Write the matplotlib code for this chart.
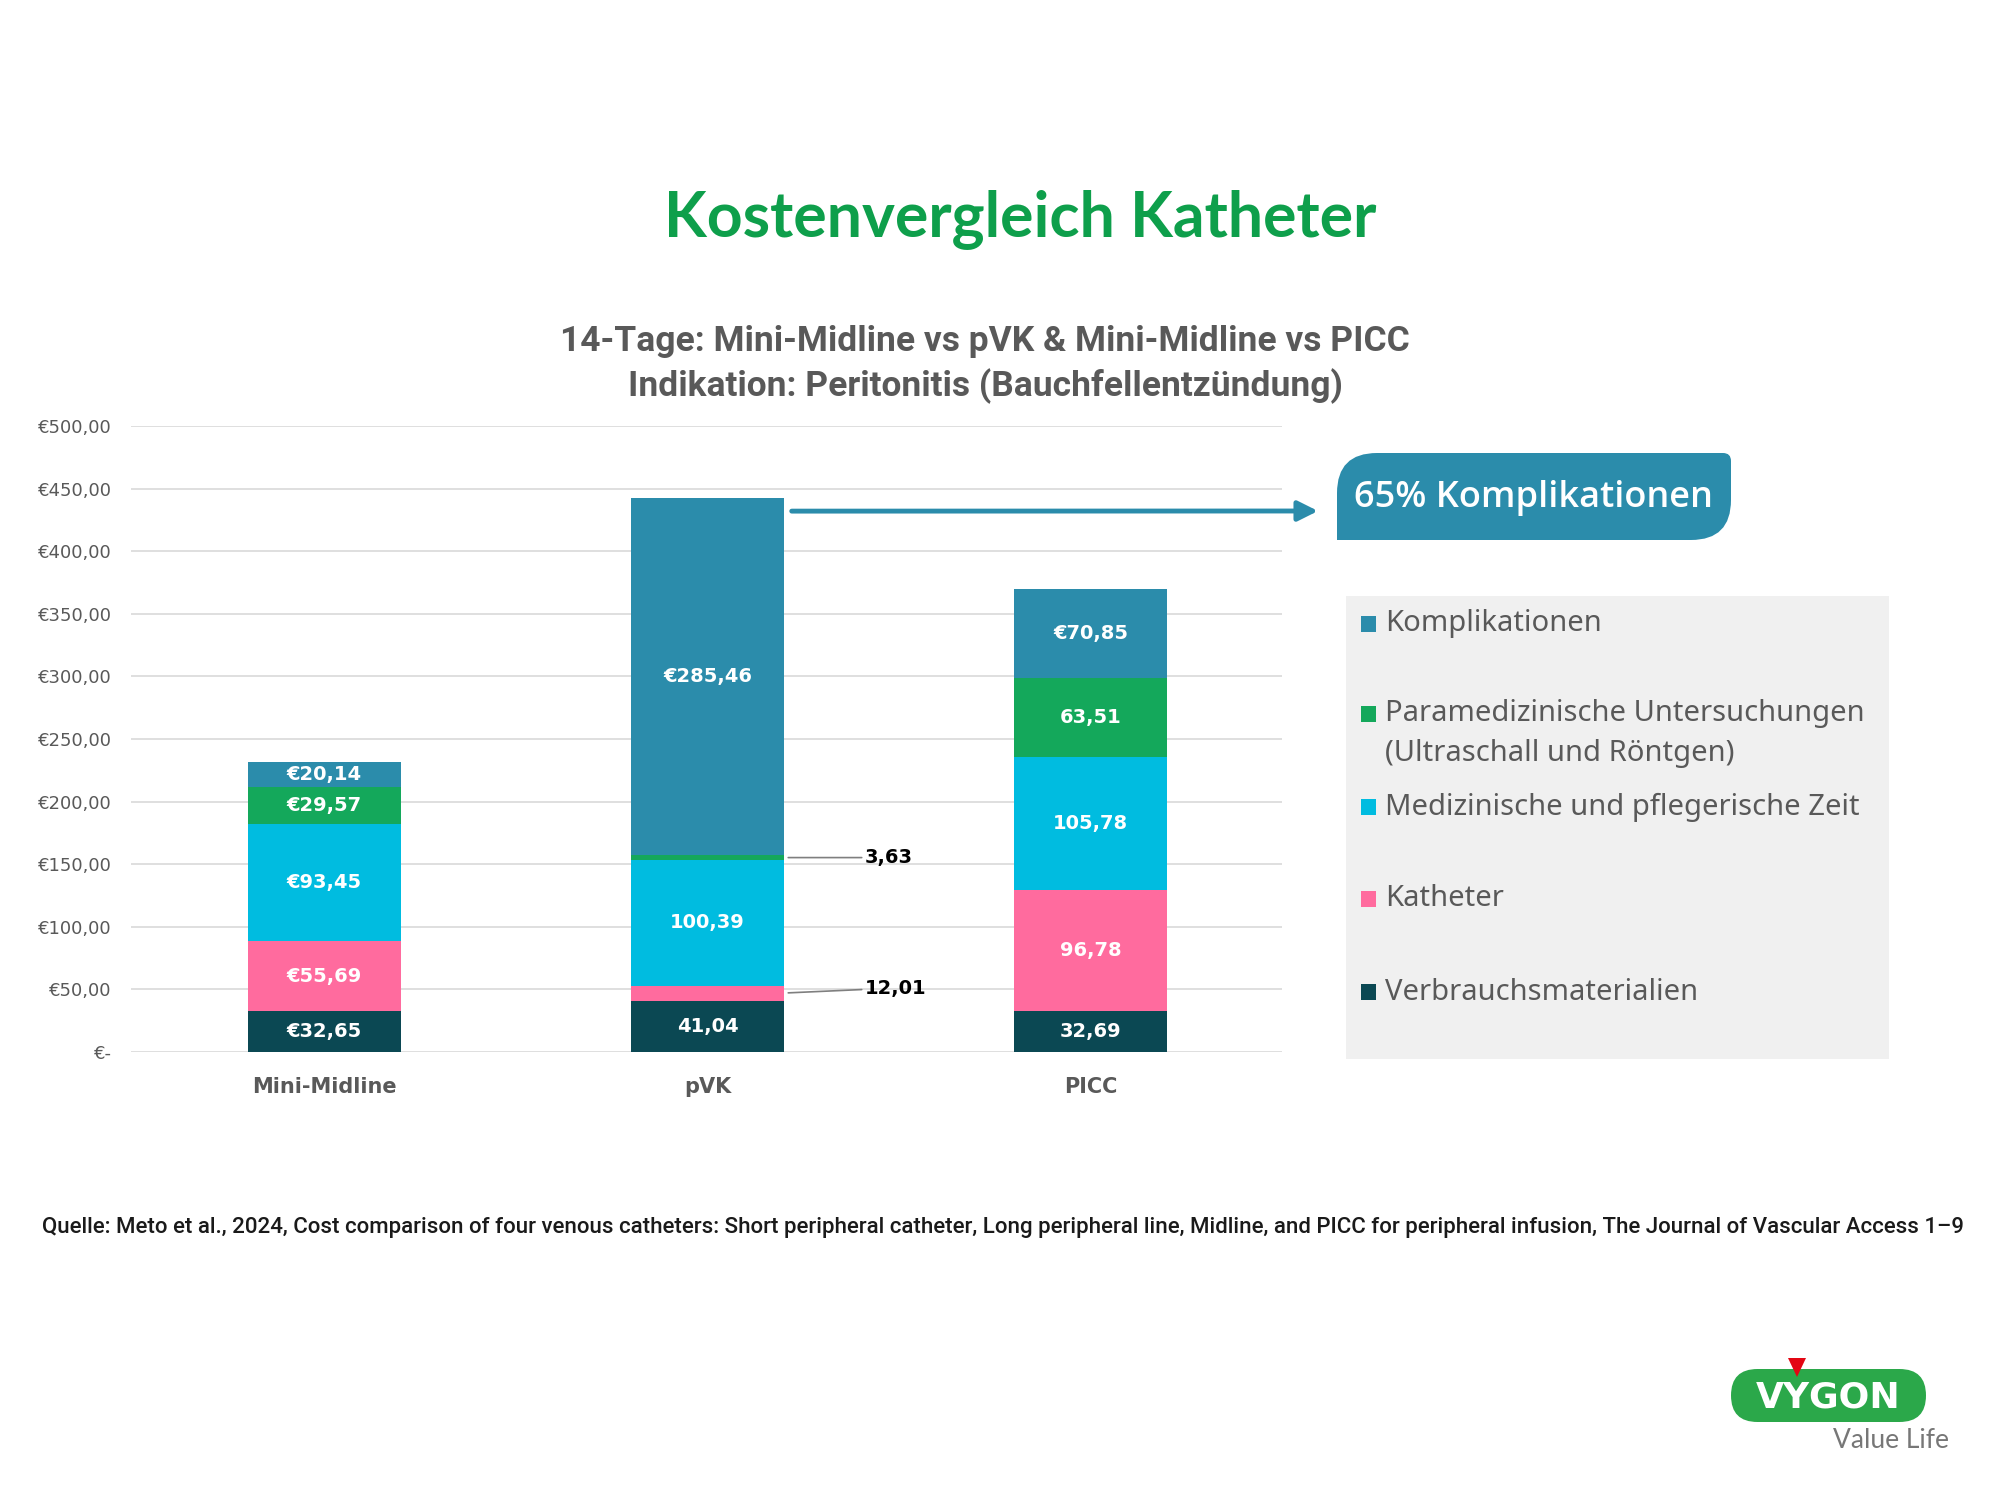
import matplotlib.pyplot as plt
import numpy as np
from matplotlib.patches import Rectangle, PathPatch, Polygon, FancyBboxPatch
from matplotlib.path import Path
from matplotlib.ticker import FuncFormatter

# Daten
categories = ["Mini-Midline", "pVK", "PICC"]
series_names = ["Verbrauchsmaterialien", "Katheter",
                "Medizinische und pflegerische Zeit",
                "Paramedizinische Untersuchungen\n(Ultraschall und Röntgen)",
                "Komplikationen"]
verbrauch = [32.65, 41.04, 32.69]
katheter = [55.69, 12.01, 96.78]
med_zeit = [93.45, 100.39, 105.78]
paramed = [29.57, 3.63, 63.51]
kompl = [20.14, 285.46, 70.85]
# welche Werte mit "€" beschriftet sind (Reihenfolge wie series_names)
euro_prefix = [[True, True, True, True, True],
               [False, False, False, False, True],
               [False, False, False, False, True]]
y_ticks = [0, 50, 100, 150, 200, 250, 300, 350, 400, 450, 500]

colors = ["#0B4853", "#FF6B9E", "#00BCE0", "#14A85B", "#2B8CAB"]
GRAY = "#595959"


def de_num(v):
    return f"{v:.2f}".replace(".", ",")


def main():
    fig = plt.figure(figsize=(20, 15), dpi=100)
    ax = fig.add_axes([0.0655, 0.2987, 0.5755, 0.4173])

    values = [verbrauch, katheter, med_zeit, paramed, kompl]
    x = np.arange(len(categories))
    bottom = np.zeros(len(categories))
    width = 0.40
    for s, (vals, col) in enumerate(zip(values, colors)):
        ax.bar(x, vals, width, bottom=bottom, color=col, zorder=3)
        for i, v in enumerate(vals):
            txt = ("€" if euro_prefix[i][s] else "") + de_num(v)
            yc = bottom[i] + v / 2
            if v < 15:
                # kleine Segmente: Beschriftung außen mit Führungslinie
                ax.annotate(txt, xy=(x[i] + width / 2, yc),
                            xytext=(x[i] + 0.41, yc + (4 if v > 10 else 0)),
                            ha="left", va="center", fontsize=14,
                            fontweight="bold", color="black",
                            fontfamily="DejaVu Sans",
                            arrowprops=dict(arrowstyle="-", color="#7F7F7F",
                                            lw=1.2, shrinkA=0, shrinkB=3))
            else:
                ax.text(x[i], yc, txt, ha="center", va="center", fontsize=14,
                        fontweight="bold", color="white",
                        fontfamily="DejaVu Sans", zorder=4)
        bottom += np.array(vals)

    ax.set_xlim(-0.505, 2.5)
    ax.set_ylim(0, 500)
    ax.set_yticks(y_ticks)
    ax.yaxis.set_major_formatter(FuncFormatter(
        lambda v, p: "€-" if v == 0 else "€" + de_num(v)))
    ax.grid(axis="y", color="#D9D9D9", lw=1.2, zorder=0)
    for sp in ax.spines.values():
        sp.set_visible(False)
    ax.tick_params(axis="both", length=0)
    ax.tick_params(axis="y", labelsize=13, labelcolor=GRAY, pad=14)
    ax.set_xticks(x)
    ax.set_xticklabels(categories, fontsize=15, fontweight="bold", color=GRAY)
    ax.tick_params(axis="x", pad=18)

    # Overlay in Pixelkoordinaten für Titel, Legende, Logo
    ov = fig.add_axes([0, 0, 1, 1], zorder=5)
    ov.set_xlim(0, 2000)
    ov.set_ylim(1500, 0)
    ov.axis("off")

    ov.text(1020, 219, "Kostenvergleich Katheter", ha="center", va="center",
            fontsize=45, fontweight="bold", color="#0E9F4B", fontfamily="Lato")
    ov.text(985, 342, "14-Tage: Mini-Midline vs pVK & Mini-Midline vs PICC",
            ha="center", va="center", fontsize=25.5, fontweight="bold",
            color=GRAY, fontfamily="Roboto")
    ov.text(985, 386, "Indikation: Peritonitis (Bauchfellentzündung)",
            ha="center", va="center", fontsize=25.5, fontweight="bold",
            color=GRAY, fontfamily="Roboto")

    # Pfeil zur Komplikations-Box
    ax.annotate("", xy=(1318, 511), xycoords=ov.transData,
                xytext=(x[1] + width / 2 + 0.02, 432), textcoords="data",
                arrowprops=dict(arrowstyle="-|>", color="#2B8CAB", lw=3.5,
                                mutation_scale=30, shrinkA=0, shrinkB=0),
                annotation_clip=False)

    # Blatt-förmige Box
    x0, x1, y0, y1, r, r2 = 1337, 1731, 453, 540, 40, 8
    verts = [(x0, y1), (x0, y0 + r), (x0, y0), (x0 + r, y0), (x1 - r2, y0),
             (x1, y0), (x1, y0 + r2), (x1, y1 - r), (x1, y1), (x1 - r, y1),
             (x0, y1)]
    codes = [Path.MOVETO, Path.LINETO, Path.CURVE3, Path.CURVE3, Path.LINETO,
             Path.CURVE3, Path.CURVE3, Path.LINETO, Path.CURVE3, Path.CURVE3,
             Path.CLOSEPOLY]
    ov.add_patch(PathPatch(Path(verts, codes), facecolor="#2B8CAB",
                           edgecolor="none"))
    ov.text(1533, 498, "65% Komplikationen", ha="center", va="center",
            fontsize=26, fontweight="semibold", color="white",
            fontfamily="Open Sans")

    # Legende
    ov.add_patch(Rectangle((1346, 596), 543, 463, facecolor="#F0F0F0",
                           edgecolor="none"))
    leg_y = [624, 714, 807, 899, 992]
    for yy, name, col in zip(leg_y, series_names[::-1], colors[::-1]):
        ov.add_patch(Rectangle((1361, yy - 8), 15, 16, facecolor=col,
                               edgecolor="none"))
        for k, line in enumerate(name.split("\n")):
            ov.text(1385, yy + 39 * k, line, ha="left", va="center",
                    fontsize=21, color=GRAY, fontfamily="Noto Sans")

    # Quelle
    ov.text(42, 1228, "Quelle: Meto et al., 2024, Cost comparison of four venous "
            "catheters: Short peripheral catheter, Long peripheral line, Midline, "
            "and PICC for peripheral infusion, The Journal of Vascular Access 1–9",
            ha="left", va="center", fontsize=16.0, fontweight="medium",
            color="#1A1A1A", fontfamily="Roboto")

    # Logo
    ov.add_patch(FancyBboxPatch((1731, 1369), 195, 53,
                                boxstyle="round,pad=0,rounding_size=26.5",
                                facecolor="#2BA84A", edgecolor="none"))
    ov.text(1828, 1397, "VYGON", ha="center", va="center", fontsize=26,
            fontweight="heavy", color="white", fontfamily="DejaVu Sans")
    ov.add_patch(Polygon([(1788, 1358), (1806, 1358), (1797, 1377)],
                         closed=True, facecolor="#E30613", edgecolor="none"))
    ov.text(1949, 1441, "Value Life", ha="right", va="center", fontsize=19,
            color="#777777", fontfamily="Lato")

    fig.savefig("out.png", dpi=100)


if __name__ == "__main__":
    main()
